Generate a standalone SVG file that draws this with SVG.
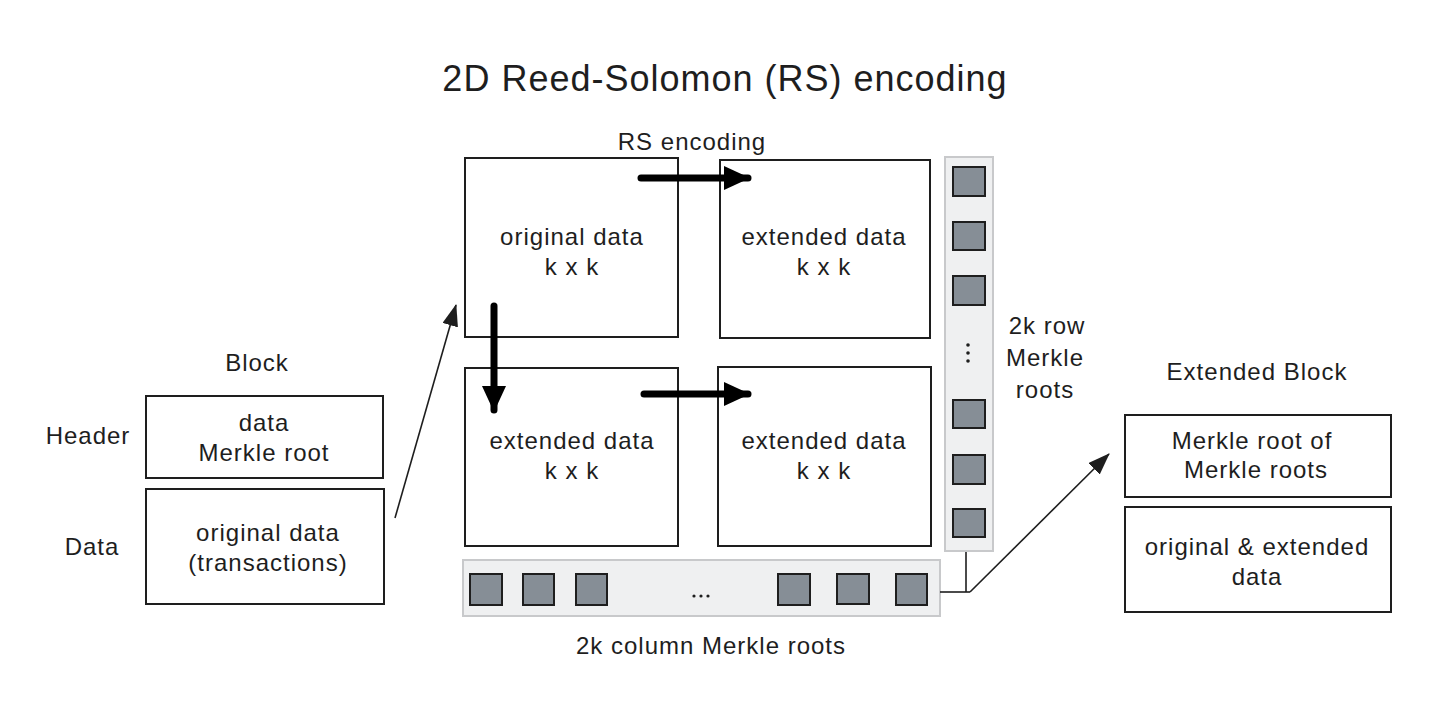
<svg xmlns="http://www.w3.org/2000/svg" width="1452" height="706" viewBox="0 0 1452 706">
<style>
text{font-family:"Liberation Sans","DejaVu Sans",sans-serif;fill:#1e1e1e;text-anchor:middle}
.t{font-size:24px;letter-spacing:1px}
.title{font-size:36px;letter-spacing:1px}
.box{fill:#fff;stroke:#1e1e1e;stroke-width:2}
.bar{fill:#eff0f1;stroke:#c8c9cb;stroke-width:2}
.sq{fill:#868e96;stroke:#1e1e1e;stroke-width:2}
.thick{stroke:#000;stroke-width:7;stroke-linecap:round;fill:none}
.thin{stroke:#1e1e1e;stroke-width:1.6;fill:none}
</style>
<defs>
<marker id="hThick" markerUnits="userSpaceOnUse" viewBox="0 0 26 24" refX="24" refY="12" markerWidth="26" markerHeight="24" orient="auto">
<path d="M0,0 L26,12 L0,24 Z" fill="#000"/>
</marker>
<marker id="hThin" markerUnits="userSpaceOnUse" viewBox="0 0 22 16" refX="21" refY="8" markerWidth="22" markerHeight="16" orient="auto">
<path d="M0,0 L22,8 L0,16 Z" fill="#1e1e1e"/>
</marker>
</defs>
<rect width="1452" height="706" fill="#fff"/>
<text class="title" x="725" y="91">2D Reed-Solomon (RS) encoding</text>
<text class="t" x="692" y="150">RS encoding</text>

<g id="block">
<text class="t" x="257" y="371">Block</text>
<text class="t" x="88" y="444">Header</text>
<text class="t" x="92" y="555">Data</text>
<g id="header-box">
<rect class="box" x="146" y="396" width="237" height="82"/>
<text class="t" x="264" y="431">data</text>
<text class="t" x="264" y="461">Merkle root</text>
</g>
<g id="data-box">
<rect class="box" x="146" y="489" width="238" height="115"/>
<text class="t" x="268" y="541">original data</text>
<text class="t" x="268" y="571">(transactions)</text>
</g>
</g>

<g id="q-original">
<rect class="box" x="465" y="158" width="213" height="179"/>
<text class="t" x="572" y="245">original data</text>
<text class="t" x="572" y="275">k x k</text>
</g>
<g id="q-ext-tr">
<rect class="box" x="720" y="160" width="210" height="178"/>
<text class="t" x="824" y="245">extended data</text>
<text class="t" x="824" y="275">k x k</text>
</g>
<g id="q-ext-bl">
<rect class="box" x="465" y="368" width="213" height="178"/>
<text class="t" x="572" y="449">extended data</text>
<text class="t" x="572" y="479">k x k</text>
</g>
<g id="q-ext-br">
<rect class="box" x="718" y="367" width="213" height="179"/>
<text class="t" x="824" y="449">extended data</text>
<text class="t" x="824" y="479">k x k</text>
</g>

<g id="row-roots">
<rect class="bar" x="945" y="157" width="48" height="394"/>
<rect class="sq" x="953" y="167" width="32" height="29"/>
<rect class="sq" x="953" y="222" width="32" height="28"/>
<rect class="sq" x="953" y="276" width="32" height="29"/>
<circle cx="968" cy="345" r="1.8" fill="#1e1e1e"/>
<circle cx="968" cy="353" r="1.8" fill="#1e1e1e"/>
<circle cx="968" cy="361" r="1.8" fill="#1e1e1e"/>
<rect class="sq" x="953" y="400" width="32" height="28"/>
<rect class="sq" x="953" y="455" width="32" height="29"/>
<rect class="sq" x="953" y="509" width="32" height="28"/>
<text class="t" x="1047" y="334">2k row</text>
<text class="t" x="1045" y="366">Merkle</text>
<text class="t" x="1045" y="398">roots</text>
</g>

<g id="col-roots">
<rect class="bar" x="463" y="560" width="477" height="56"/>
<rect class="sq" x="470" y="574" width="32" height="31"/>
<rect class="sq" x="523" y="574" width="31" height="31"/>
<rect class="sq" x="576" y="574" width="31" height="31"/>
<circle cx="694" cy="596" r="1.6" fill="#1e1e1e"/>
<circle cx="701" cy="596" r="1.6" fill="#1e1e1e"/>
<circle cx="708" cy="596" r="1.6" fill="#1e1e1e"/>
<rect class="sq" x="778" y="574" width="32" height="31"/>
<rect class="sq" x="837" y="574" width="32" height="30"/>
<rect class="sq" x="896" y="574" width="31" height="31"/>
<text class="t" x="711" y="654">2k column Merkle roots</text>
</g>

<g id="extended-block">
<text class="t" x="1257" y="380">Extended Block</text>
<g id="root-box">
<rect class="box" x="1125" y="415" width="266" height="82"/>
<text class="t" x="1252" y="449">Merkle root of</text>
<text class="t" x="1256" y="478">Merkle roots</text>
</g>
<g id="ext-data-box">
<rect class="box" x="1125" y="507" width="266" height="105"/>
<text class="t" x="1257" y="555">original &amp; extended</text>
<text class="t" x="1257" y="585">data</text>
</g>
</g>

<g id="connectors">
<line class="thick" x1="641" y1="178" x2="748" y2="178" marker-end="url(#hThick)"/>
<line class="thick" x1="494" y1="306" x2="494" y2="410" marker-end="url(#hThick)"/>
<line class="thick" x1="644" y1="394" x2="748" y2="394" marker-end="url(#hThick)"/>
<line class="thin" x1="395" y1="518" x2="456" y2="305" marker-end="url(#hThin)"/>
<polyline class="thin" points="940,592 970,592"/>
<line class="thin" x1="966" y1="552" x2="966" y2="592"/>
<line class="thin" x1="970" y1="592" x2="1109" y2="454" marker-end="url(#hThin)"/>
</g>
</svg>
